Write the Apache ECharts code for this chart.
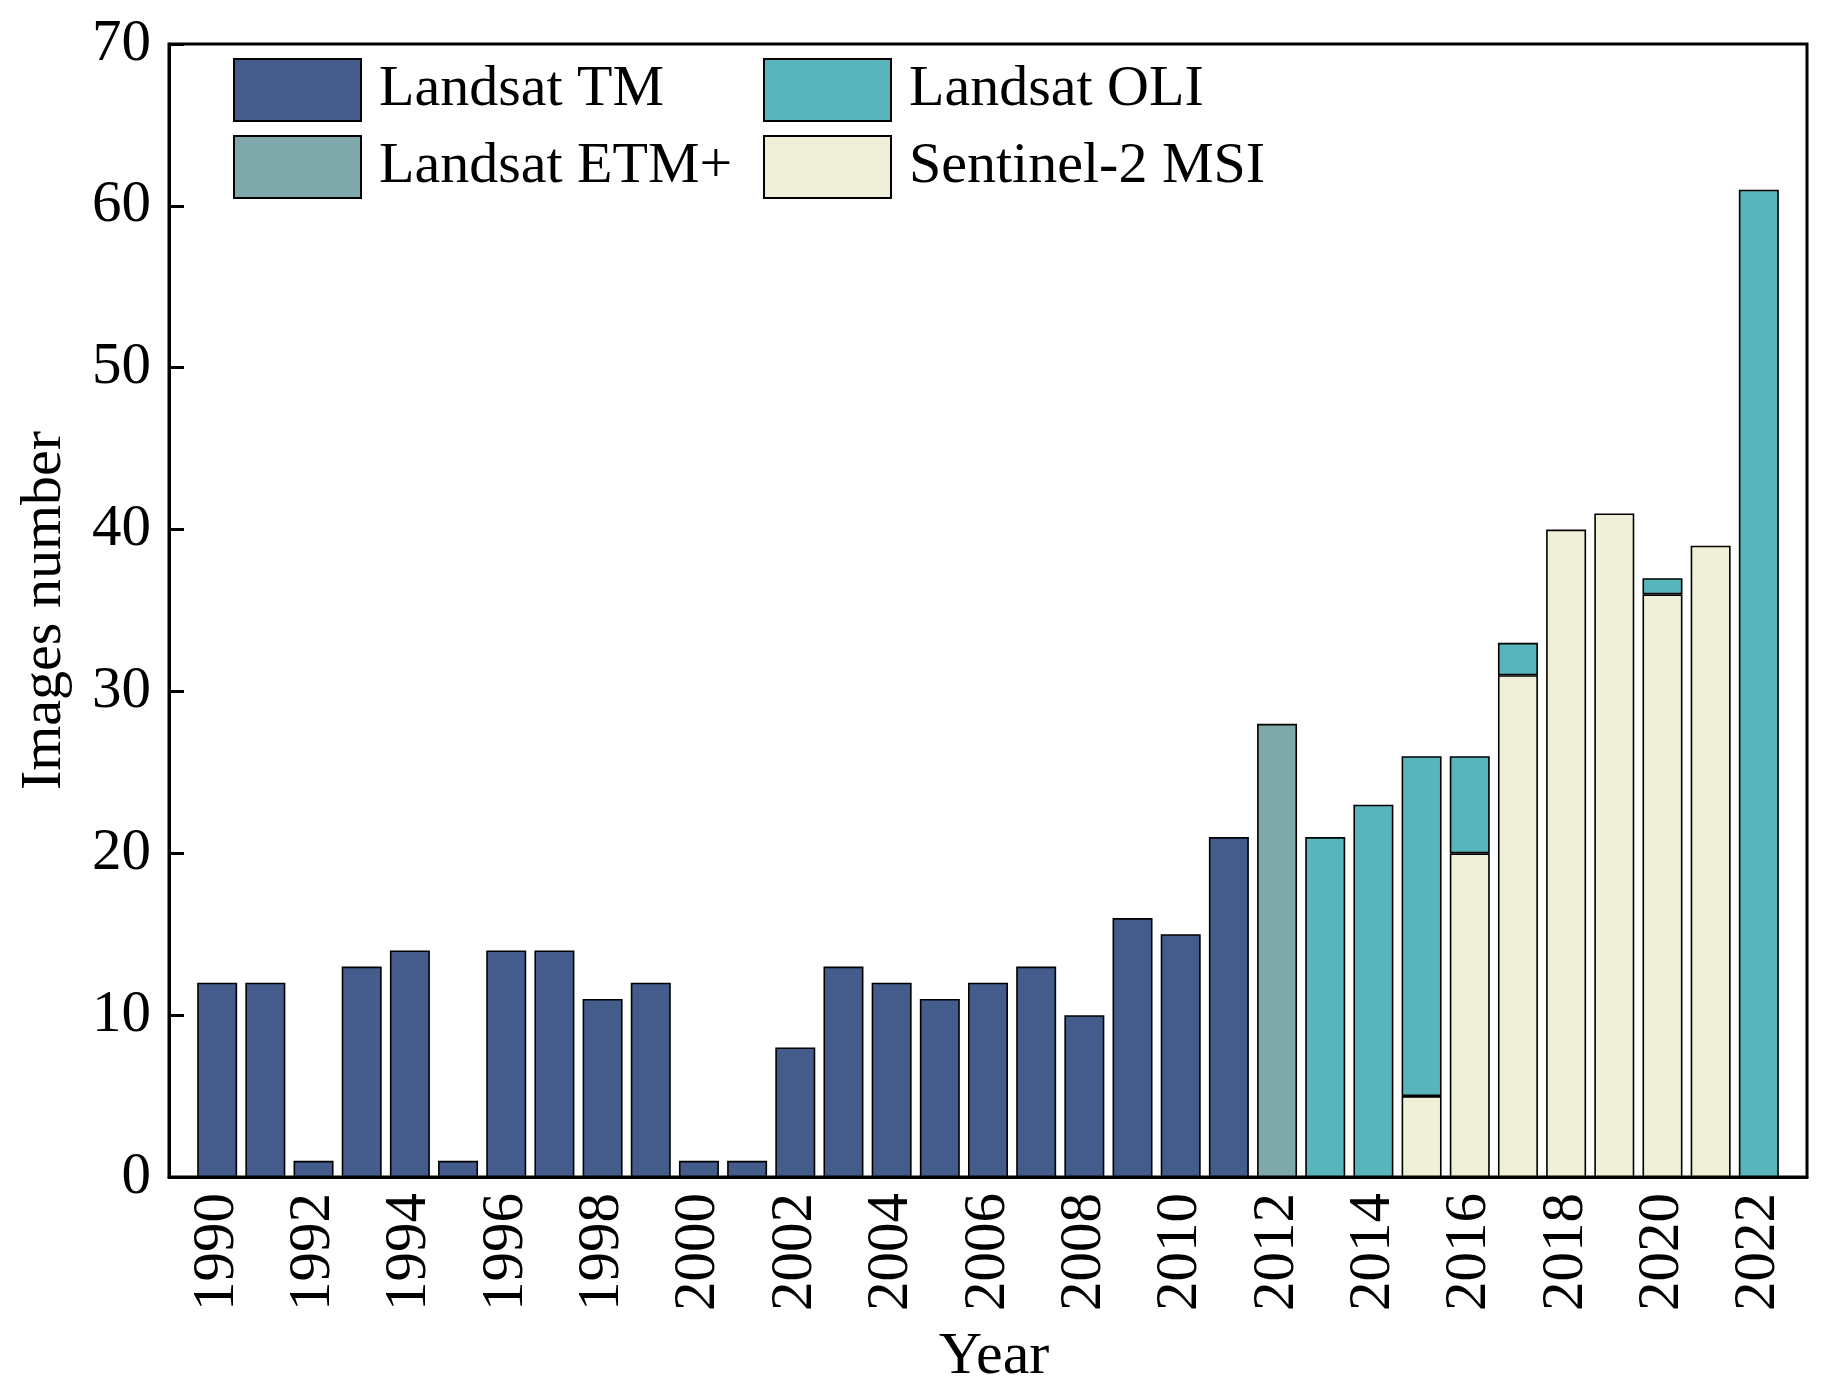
<!DOCTYPE html>
<html>
<head>
<meta charset="utf-8">
<script src="https://cdn.jsdelivr.net/npm/echarts@6/dist/echarts.min.js"></script>
<style>
html,body{margin:0;padding:0;background:#fff;}
#c{width:1831px;height:1398px;}
</style>
</head>
<body>
<div id="c"></div>
<script>
var years = ['1990','1991','1992','1993','1994','1995','1996','1997','1998','1999','2000','2001','2002','2003','2004','2005','2006','2007','2008','2009','2010','2011','2012','2013','2014','2015','2016','2017','2018','2019','2020','2021','2022'];
var landsatTM = [12,12,1,13,14,1,14,14,11,12,1,1,8,13,12,11,12,13,10,16,15,21,null,null,null,null,null,null,null,null,null,null,null];
var landsatETM = [null,null,null,null,null,null,null,null,null,null,null,null,null,null,null,null,null,null,null,null,null,null,28,null,null,null,null,null,null,null,null,null,null];
var landsatOLI = [null,null,null,null,null,null,null,null,null,null,null,null,null,null,null,null,null,null,null,null,null,null,null,21,23,21,6,2,null,null,1,null,61];
var sentinel2 = [null,null,null,null,null,null,null,null,null,null,null,null,null,null,null,null,null,null,null,null,null,null,null,null,null,5,20,31,40,41,36,39,null];
var yTicks = [0,10,20,30,40,50,60,70];

// pad one empty category on each side (axis extends one year beyond the data)
var cats = ['1989'].concat(years, ['2023']);
function pad(a){ return [null].concat(a, [null]); }
var labelYears = years.filter(function(y, i){ return i % 2 === 0; });
function showIdx(idx, val){ return labelYears.indexOf(String(val)) >= 0; }

var FONT = 'Liberation Serif';
var chart = echarts.init(document.getElementById('c'), null, {renderer:'canvas'});
var barBorder = {borderColor:'#000', borderWidth:1.6};
function mk(name, data, color){
  return {
    name: name, type: 'bar', stack: 'all', data: pad(data),
    barWidth: '83%',
    itemStyle: Object.assign({color: color}, barBorder)
  };
}
var legendCommon = {
  orient: 'vertical', top: 53, icon: 'rect',
  itemWidth: 127, itemHeight: 62, itemGap: 13,
  textStyle: {fontFamily: FONT, fontSize: 58, color: '#000', padding:[4,0,0,13]},
  itemStyle: {borderColor:'#000', borderWidth:2}
};
chart.setOption({
  animation: false,
  backgroundColor: '#fff',
  grid: {left: 169, top: 44, right: 24, bottom: 221, outerBoundsMode: 'none', containLabel: false,
         show: true, borderColor: '#000', borderWidth: 3, backgroundColor: 'transparent'},
  legend: [
    Object.assign({data: ['Landsat TM','Landsat ETM+'], left: 228}, legendCommon),
    Object.assign({data: ['Landsat OLI','Sentinel-2 MSI'], left: 758}, legendCommon)
  ],
  xAxis: {
    type: 'category', data: cats, boundaryGap: false,
    name: 'Year', nameLocation: 'middle', nameGap: 150,
    nameTextStyle: {fontFamily: FONT, fontSize: 60, color: '#000', padding:[0,0,0,12]},
    axisLine: {show: true, lineStyle: {color: '#000', width: 3}},
    axisTick: {show: true, inside: true, length: 15, interval: showIdx, lineStyle: {color:'#000', width: 3}},
    axisLabel: {interval: showIdx, rotate: 90, margin: 16, fontFamily: FONT, fontSize: 59, color: '#000'},
    splitLine: {show: false}
  },
  yAxis: {
    type: 'value', min: yTicks[0], max: yTicks[yTicks.length-1], interval: 10,
    name: 'Images number', nameLocation: 'middle', nameGap: 95,
    nameTextStyle: {fontFamily: FONT, fontSize: 58, color: '#000'},
    axisLine: {show: true, lineStyle: {color: '#000', width: 3}},
    axisTick: {show: true, inside: true, length: 15, lineStyle: {color:'#000', width: 3}},
    axisLabel: {margin: 18, fontFamily: FONT, fontSize: 59, color: '#000'},
    splitLine: {show: false}
  },
  series: [
    mk('Landsat TM', landsatTM, '#435C8C'),
    mk('Landsat ETM+', landsatETM, '#7EA8A9'),
    mk('Sentinel-2 MSI', sentinel2, '#F0F0D8'),
    mk('Landsat OLI', landsatOLI, '#58B5BB')
  ]
});
</script>
</body>
</html>
